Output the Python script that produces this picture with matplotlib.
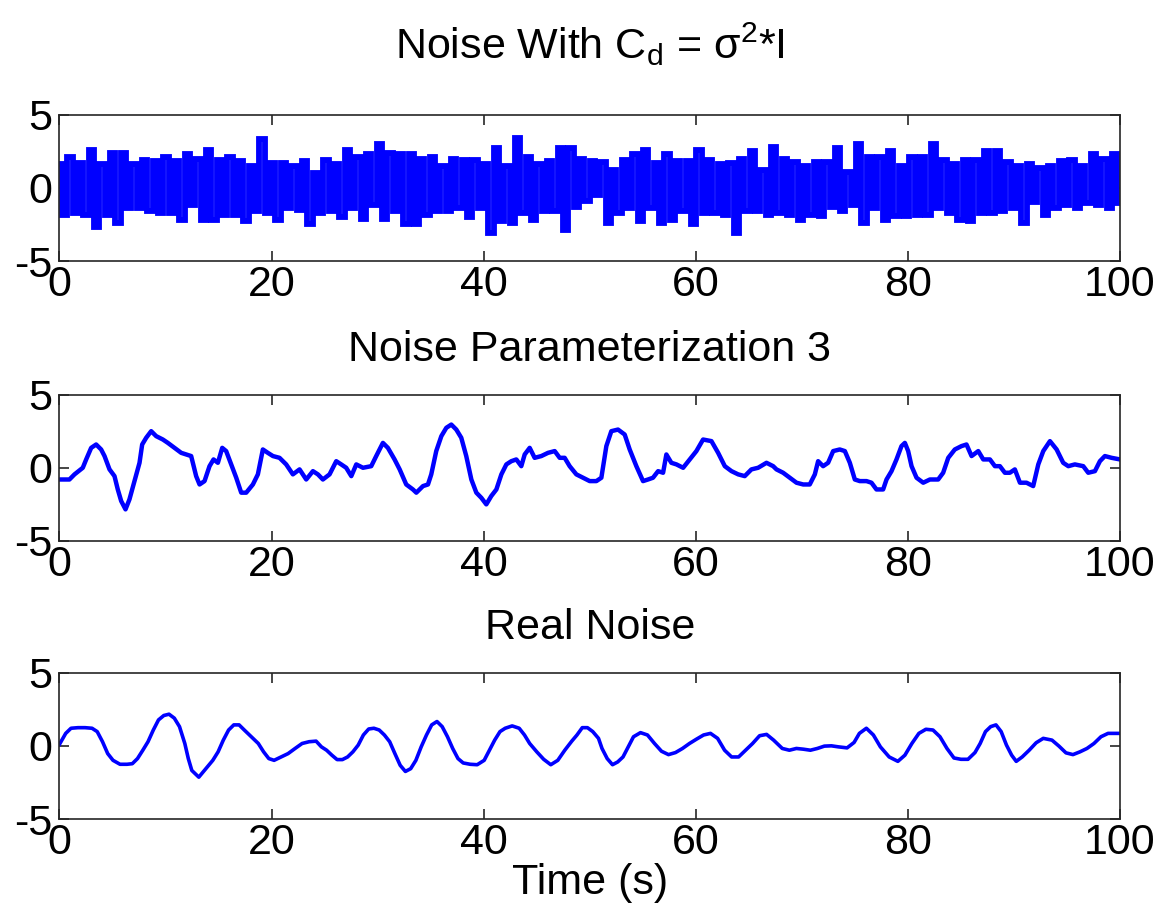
import numpy as np
import matplotlib.pyplot as plt

# panel 1: white noise, per-second peak (upper) and trough (lower)
noise_upper = [1.6, 2.1, 1.7, 2.6, 1.6, 2.4, 2.4, 1.6, 1.9, 1.8,
               2.1, 1.8, 2.3, 2.0, 2.6, 1.9, 2.1, 1.8, 1.5, 3.3,
               1.7, 1.7, 1.5, 1.8, 1.0, 1.9, 1.6, 2.6, 2.1, 2.3,
               3.0, 2.4, 2.3, 2.3, 2.0, 2.1, 1.5, 2.0, 1.9, 1.9,
               1.6, 2.7, 1.5, 3.4, 2.1, 1.6, 1.8, 2.7, 2.7, 2.0,
               1.8, 1.75, 1.2, 1.9, 2.3, 2.6, 1.7, 2.3, 1.8, 1.8,
               2.6, 1.9, 1.6, 1.7, 2.0, 2.5, 1.2, 2.8, 2.0, 1.75,
               1.5, 1.75, 1.75, 2.7, 1.1, 3.0, 2.1, 2.1, 2.5, 1.5,
               2.1, 2.1, 3.0, 1.9, 1.6, 1.9, 1.9, 2.5, 2.5, 1.75,
               1.5, 1.6, 1.35, 1.5, 1.8, 1.9, 1.5, 2.3, 2.0, 2.3]
noise_lower = [-1.85, -1.7, -1.85, -2.7, -1.85, -2.4, -1.4, -1.4, -1.6, -1.7,
               -1.7, -2.2, -1.2, -2.2, -2.2, -1.85, -1.85, -2.3, -1.6, -1.7,
               -2.2, -1.4, -1.5, -2.5, -1.7, -1.6, -2.0, -1.4, -2.1, -1.2,
               -2.1, -1.6, -2.5, -2.5, -1.85, -1.6, -1.6, -1.4, -2.0, -1.4,
               -3.1, -2.3, -2.4, -1.7, -2.2, -1.6, -1.6, -2.9, -1.3, -0.9,
               -0.5, -2.4, -1.7, -1.4, -2.3, -1.4, -2.4, -2.2, -1.6, -2.5,
               -1.7, -1.7, -1.85, -3.1, -1.6, -1.6, -1.85, -1.7, -1.85, -2.2,
               -1.85, -1.95, -1.3, -1.6, -1.2, -2.4, -1.4, -2.2, -1.95, -1.95,
               -1.85, -1.85, -1.4, -1.7, -2.2, -2.3, -1.7, -1.7, -1.6, -1.4,
               -2.4, -0.95, -1.85, -1.4, -1.15, -1.4, -1.05, -1.15, -1.4, -1.05]

# panel 2: noise parameterization 3
param_t = [0.0, 0.94, 1.42, 2.20, 2.52, 2.99, 3.46, 3.93, 4.25, 4.72,
           5.19, 5.50, 5.82, 6.23, 6.60, 7.08, 7.55, 7.80, 8.18, 8.65,
           9.12, 9.75, 10.22, 10.85, 11.48, 11.95, 12.42, 12.89, 13.21, 13.68,
           14.15, 14.53, 14.94, 15.35, 15.72, 16.19, 16.67, 17.14, 17.61, 18.24,
           18.71, 19.18, 19.65, 20.13, 20.75, 21.38, 22.01, 22.64, 23.27, 23.90,
           24.37, 24.84, 25.47, 26.10, 26.57, 27.04, 27.52, 27.99, 28.62, 29.40,
           29.87, 30.50, 30.97, 31.60, 32.08, 32.70, 33.33, 33.65, 34.28, 34.75,
           35.06, 35.53, 36.01, 36.48, 36.95, 37.42, 37.89, 38.36, 38.84, 39.31,
           39.78, 40.25, 40.72, 41.20, 41.67, 42.14, 42.61, 43.08, 43.55, 43.87,
           44.34, 44.81, 45.44, 46.07, 46.70, 47.17, 47.64, 48.11, 48.74, 49.37,
           50.00, 50.63, 51.10, 51.57, 52.04, 52.67, 53.30, 53.77, 54.40, 55.03,
           55.50, 55.97, 56.45, 56.92, 57.23, 57.70, 58.18, 58.81, 59.43, 60.06,
           60.69, 61.48, 62.11, 62.74, 63.37, 64.00, 64.62, 65.25, 65.88, 66.67,
           67.30, 67.61, 68.24, 68.87, 69.50, 70.13, 70.75, 71.23, 71.54, 72.01,
           72.48, 72.96, 73.58, 74.06, 74.53, 75.00, 75.47, 76.10, 76.57, 77.04,
           77.67, 77.99, 78.46, 78.93, 79.40, 79.72, 80.03, 80.35, 80.82, 81.45,
           82.08, 82.86, 83.33, 83.81, 84.43, 85.06, 85.53, 86.01, 86.64, 87.11,
           87.74, 88.21, 88.68, 89.15, 89.62, 90.09, 90.57, 91.19, 91.82, 92.30,
           92.77, 93.40, 94.03, 94.65, 95.13, 95.75, 96.54, 97.01, 97.64, 98.11,
           98.58, 99.21, 100.0]
param_v = [-0.80, -0.80, -0.45, 0.0, 0.57, 1.36, 1.59, 1.25, 0.80, -0.11,
           -0.57, -1.48, -2.27, -2.84, -2.16, -0.91, 0.34, 1.59, 2.05, 2.50,
           2.16, 1.93, 1.70, 1.36, 1.02, 0.91, 0.80, -0.57, -1.14, -0.91,
           0.11, 0.57, 0.34, 1.36, 1.14, 0.23, -0.68, -1.70, -1.70, -1.14,
           -0.45, 1.25, 1.02, 0.80, 0.68, 0.23, -0.45, -0.11, -0.80, -0.23,
           -0.45, -0.80, -0.45, 0.45, 0.23, 0.0, -0.57, 0.23, 0.0, 0.11,
           0.80, 1.70, 1.36, 0.57, -0.11, -1.14, -1.48, -1.70, -1.25, -1.14,
           -0.45, 1.14, 2.16, 2.73, 2.95, 2.61, 2.05, 0.80, -0.80, -1.70,
           -2.05, -2.50, -1.93, -1.48, -0.45, 0.23, 0.45, 0.57, 0.11, 0.91,
           1.36, 0.68, 0.80, 1.02, 1.14, 0.68, 0.68, 0.11, -0.45, -0.68,
           -0.91, -0.91, -0.68, 1.48, 2.50, 2.61, 2.27, 1.25, 0.11, -0.91,
           -0.80, -0.68, -0.23, -0.34, 0.91, 0.34, 0.23, 0.0, 0.57, 1.14,
           1.93, 1.82, 1.02, 0.11, -0.23, -0.45, -0.57, -0.11, 0.0, 0.34,
           0.11, -0.11, -0.34, -0.68, -1.02, -1.14, -1.14, -0.45, 0.45, 0.11,
           0.34, 1.14, 1.25, 1.14, 0.34, -0.80, -0.91, -0.91, -1.02, -1.48,
           -1.48, -0.80, -0.23, 0.57, 1.48, 1.70, 1.14, 0.11, -0.68, -1.02,
           -0.80, -0.80, -0.34, 0.68, 1.25, 1.48, 1.59, 0.80, 1.14, 0.57,
           0.57, 0.11, 0.11, -0.34, -0.34, -0.11, -1.02, -1.02, -1.25, 0.23,
           1.14, 1.82, 1.25, 0.34, 0.11, 0.23, 0.11, -0.34, -0.23, 0.45,
           0.80, 0.68, 0.57]

# panel 3: real noise
real_t = [0.0, 0.59, 1.09, 1.75, 2.41, 3.07, 3.56, 4.06, 4.55, 5.05,
          5.71, 6.37, 6.87, 7.36, 7.86, 8.35, 8.85, 9.34, 9.84, 10.33,
          10.83, 11.32, 11.82, 12.15, 12.48, 13.14, 13.80, 14.46, 14.96, 15.45,
          15.95, 16.44, 16.94, 17.43, 18.09, 18.75, 19.25, 19.74, 20.24, 20.90,
          21.56, 22.22, 22.88, 23.54, 24.20, 24.70, 25.19, 25.69, 26.18, 26.68,
          27.17, 27.67, 28.17, 28.66, 29.16, 29.65, 30.15, 30.64, 31.14, 31.63,
          32.13, 32.62, 33.12, 33.61, 34.11, 34.61, 35.10, 35.60, 36.09, 36.59,
          37.08, 37.58, 38.07, 38.73, 39.39, 40.05, 40.55, 41.04, 41.54, 42.03,
          42.69, 43.35, 43.85, 44.34, 45.01, 45.66, 46.33, 46.99, 47.65, 48.31,
          48.80, 49.30, 49.79, 50.29, 50.83,
          51.16, 51.65, 52.15, 52.64, 53.14, 53.63, 54.13, 54.79, 55.45, 56.11,
          56.77, 57.43, 58.09, 58.75, 59.41, 60.08, 60.74, 61.39, 62.06, 62.72,
          63.38, 64.04, 64.70, 65.36, 66.02, 66.68, 67.34, 68.16, 68.83, 69.49,
          70.15, 70.81, 71.47, 72.13, 72.79, 73.45, 74.27, 74.93, 75.43, 76.09,
          76.75, 77.41, 78.24, 79.06, 79.72, 80.38, 81.04, 81.70, 82.37, 83.03,
          83.69, 84.35, 85.01, 85.67, 86.33, 86.82, 87.32, 87.81, 88.31, 88.80,
          89.30, 89.79, 90.22, 90.78, 91.44, 92.10, 92.77, 93.59, 94.25, 94.91,
          95.57, 96.23, 96.89, 97.55, 98.21, 98.88, 100.0]
real_v = [0.10, 0.85, 1.20, 1.24, 1.24, 1.20, 0.97, 0.28, -0.53, -0.99,
          -1.26, -1.26, -1.22, -0.87, -0.30, 0.28, 1.08, 1.77, 2.07, 2.16,
          1.89, 1.31, 0.16, -0.87, -1.68, -2.14, -1.56, -0.99, -0.41, 0.39,
          1.08, 1.43, 1.43, 1.08, 0.62, 0.16, -0.41, -0.87, -0.99, -0.76,
          -0.53, -0.18, 0.16, 0.28, 0.32, -0.07, -0.30, -0.64, -0.94, -0.94,
          -0.76, -0.41, 0.05, 0.74, 1.15, 1.20, 1.08, 0.74, 0.28, -0.53,
          -1.33, -1.75, -1.56, -0.99, -0.07, 0.74, 1.43, 1.66, 1.31, 0.62,
          -0.18, -0.87, -1.17, -1.26, -1.29, -0.99, -0.30, 0.39, 0.97, 1.20,
          1.36, 1.20, 0.74, 0.16, -0.41, -0.92, -1.29, -0.99, -0.30, 0.32,
          0.74, 1.24, 1.24, 0.97, 0.51,
          -0.18, -0.87, -1.29, -1.10, -0.76, -0.07, 0.62, 0.90, 0.74, 0.16,
          -0.37, -0.60, -0.46, -0.18, 0.16, 0.46, 0.74, 0.85, 0.51, -0.30,
          -0.76, -0.76, -0.30, 0.16, 0.69, 0.78, 0.39, -0.18, -0.30, -0.18,
          -0.23, -0.30, -0.18, -0.02, 0.0, -0.07, -0.14, 0.23, 0.85, 1.20,
          0.74, -0.07, -0.76, -1.06, -0.64, 0.16, 0.85, 1.13, 1.08, 0.62,
          -0.18, -0.83, -0.92, -0.92, -0.46, 0.16, 0.97, 1.31, 1.43, 0.97,
          0.05, -0.64, -1.06, -0.76, -0.30, 0.21, 0.51, 0.39, -0.02, -0.48,
          -0.60, -0.41, -0.18, 0.16, 0.62, 0.85, 0.85]

titles = ['Noise With C$_\\mathrm{d}$ = \u03c3$^\\mathrm{2}$*I',
          'Noise Parameterization 3', 'Real Noise']
title_pads = [40, 24, 24]

plt.rcParams['font.family'] = ['Liberation Sans', 'DejaVu Sans']
plt.rcParams['mathtext.fontset'] = 'custom'
plt.rcParams['mathtext.rm'] = 'Liberation Sans'
plt.rcParams['axes.unicode_minus'] = False

FS = 31


def style_axes(ax):
    ax.set_xlim(0, 100)
    ax.set_ylim(-5, 5)
    ax.set_xticks([0, 20, 40, 60, 80, 100])
    ax.set_yticks([-5, 0, 5])
    ax.tick_params(direction='in', top=True, right=True, length=7, width=1.2,
                   labelsize=FS, color='#262626')
    ax.tick_params(axis='x', pad=3)
    ax.tick_params(axis='y', pad=5)
    for s in ax.spines.values():
        s.set_linewidth(1.2)
        s.set_color('#262626')


def main():
    fig = plt.figure(figsize=(11.59, 9.21), dpi=100)
    bottoms = [0.7166, 0.4126, 0.1107]
    axes = [fig.add_axes([0.0513, b, 0.915, 0.159]) for b in bottoms]

    x1 = np.linspace(0, 100, 2 * len(noise_upper))
    y1 = np.column_stack([noise_upper, noise_lower]).ravel()
    axes[0].plot(x1, y1, color='blue', lw=4.2, drawstyle='steps-mid',
                 solid_joinstyle='miter')
    axes[1].plot(param_t, param_v, color='blue', lw=3.2)
    axes[2].plot(real_t, real_v, color='blue', lw=2.6)

    for ax, t, p in zip(axes, titles, title_pads):
        style_axes(ax)
        ax.set_title(t, fontsize=FS, pad=p)
    axes[2].set_xlabel('Time (s)', fontsize=FS, labelpad=0)

    fig.savefig('out.png', dpi=100)


if __name__ == '__main__':
    main()
